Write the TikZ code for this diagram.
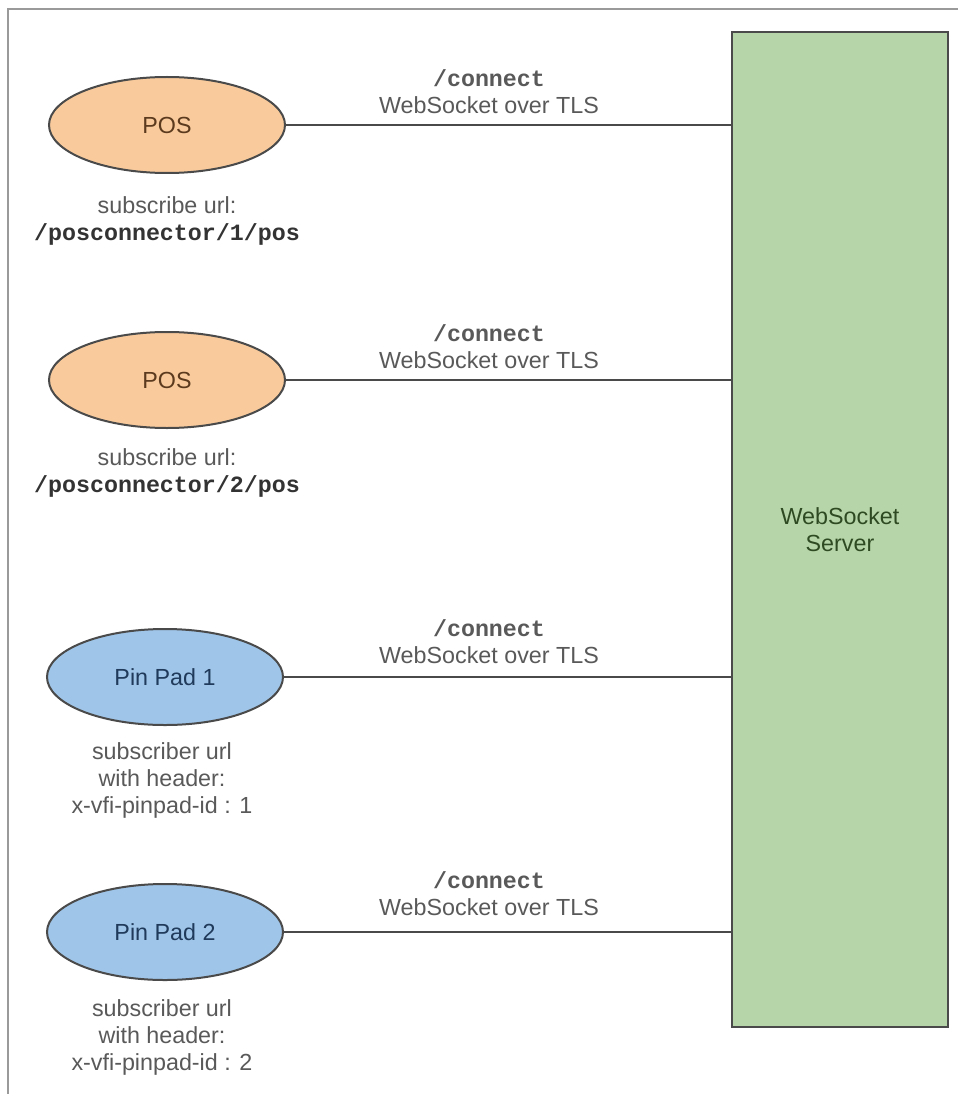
\documentclass[tikz,border=0pt]{standalone}
\usepackage{fontspec}
\setmainfont{Liberation Sans}
\newfontfamily\monob{Liberation Mono}
\usetikzlibrary{shapes.geometric}
\definecolor{posfill}{HTML}{F9CB9C}
\definecolor{padfill}{HTML}{9FC5E8}
\definecolor{srvfill}{HTML}{B6D5A8}
\definecolor{edgec}{HTML}{4A4A4A}
\definecolor{txtgray}{HTML}{595959}
\definecolor{postxt}{HTML}{5B3A1E}
\definecolor{padtxt}{HTML}{1F3A5A}
\definecolor{srvtxt}{HTML}{2E4A22}
\definecolor{framec}{HTML}{9A9A9A}
\tikzset{
  basefont/.style={font=\fontsize{23.3}{27}\selectfont},
  client/.style={ellipse, draw=edgec, line width=2pt, minimum width=236pt, minimum height=96pt, inner sep=0pt, basefont},
  posnode/.style={client, fill=posfill, text=postxt},
  padnode/.style={client, fill=padfill, text=padtxt},
  server/.style={rectangle, draw=edgec, line width=2pt, fill=srvfill, text=srvtxt, minimum width=216pt, minimum height=995pt, inner sep=0pt, align=center, basefont},
  link/.style={draw=edgec, line width=2pt},
  linklabel/.style={align=center, text=txtgray, basefont, inner sep=0pt},
  sublabel/.style={align=center, text=txtgray, basefont, inner sep=0pt},
}
\begin{document}
\begin{tikzpicture}[x=1pt,y=-1pt]
\useasboundingbox (0,0) rectangle (958,1094);
\draw[framec, line width=2pt] (8,1094) -- (8,9) -- (958,9);

\node[server] (srv) at (840,529.5) {WebSocket\\Server};

\node[posnode] (pos1) at (167,125) {POS};
\node[posnode] (pos2) at (167,380) {POS};
\node[padnode] (pad1) at (165,677) {Pin Pad 1};
\node[padnode] (pad2) at (165,932) {Pin Pad 2};

\draw[link] (pos1.east) -- (srv.west |- pos1.east);
\draw[link] (pos2.east) -- (srv.west |- pos2.east);
\draw[link] (pad1.east) -- (srv.west |- pad1.east);
\draw[link] (pad2.east) -- (srv.west |- pad2.east);

\node[linklabel] (l1) at (489,92) {{\monob\bfseries /connect}\\WebSocket over TLS};
\node[linklabel] (l2) at (489,347) {{\monob\bfseries /connect}\\WebSocket over TLS};
\node[linklabel] (l3) at (489,642) {{\monob\bfseries /connect}\\WebSocket over TLS};
\node[linklabel] (l4) at (489,894) {{\monob\bfseries /connect}\\WebSocket over TLS};

\node[sublabel] (s1) at (167,221) {subscribe url:\\{\monob\bfseries\color{black!80} /posconnector/1/pos}};
\node[sublabel] (s2) at (167,473) {subscribe url:\\{\monob\bfseries\color{black!80} /posconnector/2/pos}};
\node[sublabel] (s3) at (162,780) {subscriber url\\with header:\\x-vfi-pinpad-id : 1};
\node[sublabel] (s4) at (162,1037) {subscriber url\\with header:\\x-vfi-pinpad-id : 2};
\end{tikzpicture}
\end{document}
